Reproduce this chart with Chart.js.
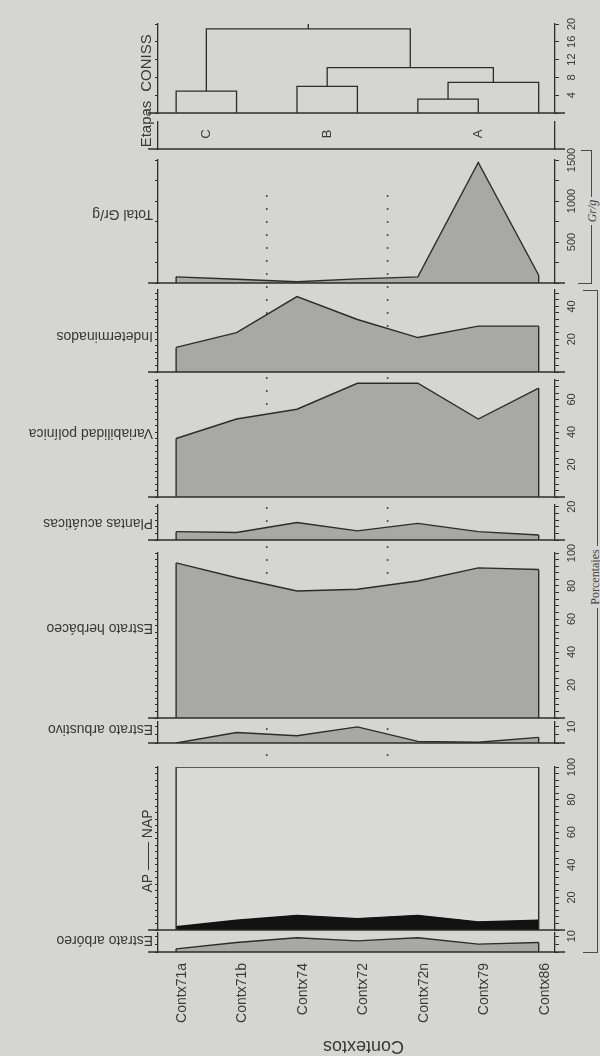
<!DOCTYPE html>
<html><head><meta charset="utf-8">
<script src="https://cdn.jsdelivr.net/npm/chart.js@4.4.1/dist/chart.umd.min.js"></script>
<style>
html,body{margin:0;padding:0;}
body{width:600px;height:1056px;background:#d5d5d3;position:relative;overflow:hidden;font-family:"Liberation Sans",Arial,sans-serif;color:#333;}
canvas{position:absolute;left:0;}
.ln{position:absolute;background:#4a4a4a;z-index:6;}
.rt{position:absolute;z-index:7;text-align:center;white-space:nowrap;transform:rotate(-90deg);font-family:"Liberation Serif","Times New Roman",serif;font-size:12px;color:#444;}
.rt span{background:#d5d5d3;padding:0 3px;}
</style></head><body>
<script>
// ---------------- data ----------------
const categories = ['Contx71a','Contx71b','Contx74','Contx72','Contx72n','Contx79','Contx86'];

// CONISS dendrogram: merge k joins node conissFrom[k] and conissTo[k] (leaves 0..6, merges 7..)
const conissFrom   = [0, 2, 4, 9, 8, 7];
const conissTo     = [1, 3, 5, 6, 10, 11];
const conissHeight = [4.9, 6.0, 3.1, 6.9, 10.2, 18.9];
const conissTicks  = [4, 8, 12, 16, 20];

// Etapas (zones)
const zoneNames = ['C', 'B', 'A'];
const zoneFirst = [0, 2, 4];
const zoneLast  = [1, 3, 6];

const totalGrG             = [75, 45, 15, 50, 75, 1470, 95];
const indeterminados       = [15, 24, 46, 32, 21, 28, 28];
const variabilidadPolinica = [36, 48, 54, 70, 70, 48, 67];
const plantasAcuaticas     = [5, 4.5, 10.5, 5.5, 10, 5, 3];
const estratoHerbaceo      = [94, 85, 77, 78, 83, 91, 90];
const estratoArbustivo     = [0, 6.5, 4.5, 10, 1, 0.5, 3.5];
const estratoArboreo       = [2, 6, 9, 7, 9, 5, 6];
const apNapTotal           = [100, 100, 100, 100, 100, 100, 100];

const totalTicks    = [500, 1000, 1500];
const indetTicks    = [20, 40];
const variabTicks   = [20, 40, 60];
const plantasTicks  = [20];
const herbTicks     = [20, 40, 60, 80, 100];
const arbustTicks   = [10];
const apNapTicks    = [20, 40, 60, 80, 100];
const arborTicks    = [10];

// ---------------- style ----------------
const INK = '#2c2c2c', FILL = '#a8a8a7', TXT = '#383838';
const FONT = '"Liberation Sans", Arial, sans-serif';
const X_MIN = -0.3, X_MAX = 6.27;
const AXIS_L = 158, AXIS_R_W = 45;

const mctx = document.createElement('canvas').getContext('2d');
function textW(s, size){ mctx.font = size + 'px ' + FONT; return mctx.measureText(s).width; }

function addCanvas(top, height, z){
  const c = document.createElement('canvas');
  c.width = 600; c.height = height;
  c.style.top = top + 'px'; c.style.width = '600px'; c.style.height = height + 'px';
  c.style.zIndex = z;
  document.body.appendChild(c);
  return c;
}

function yRight(max, step, labels, showTicks){
  const widest = labels.length ? Math.max(...labels.map(l => textW(String(l), 11))) : 0;
  return {
    type:'linear', position:'right', min:0, max:max,
    ticks:{ display: labels.length > 0, stepSize: step, autoSkip:false, includeBounds:false,
      minRotation:90, maxRotation:90, crossAlign:'center',
      padding: Math.max(0, 13 - widest/2), color: TXT, font:{family: FONT, size: 11},
      callback: v => labels.includes(v) ? String(v) : '' },
    grid:{ display: showTicks, drawOnChartArea:false, tickLength:4, color: INK, lineWidth:1 },
    border:{ display:true, color: INK, width:1.3 },
    afterFit: s => { s.width = AXIS_R_W; }
  };
}
function yLeft(max, step, showTicks){
  return {
    type:'linear', position:'left', min:0, max:max,
    ticks:{ display:false, stepSize: step, autoSkip:false, includeBounds:false },
    grid:{ display: showTicks, drawOnChartArea:false, tickLength:3, color: INK, lineWidth:1 },
    border:{ display:true, color: INK, width:1.3 },
    afterFit: s => { s.width = AXIS_L; }
  };
}
function xHidden(){ return { type:'linear', min:X_MIN, max:X_MAX, display:false }; }

function area(values){
  return { data: values.map((v,i) => ({x:i, y:v})), borderColor: INK, borderWidth:1.4,
    backgroundColor: FILL, fill:'origin', pointRadius:0, tension:0, edges:true,
    xAxisID:'x', yAxisID:'y' };
}

function extrasPlugin(cfg){
  return {
    id: 'extras',
    afterDatasetsDraw(chart){
      const {ctx, chartArea:a, scales} = chart;
      const y = scales.y, x = scales.x;
      const y0 = y.getPixelForValue(0);
      ctx.save();
      ctx.strokeStyle = INK; ctx.lineWidth = 1.4;
      chart.data.datasets.forEach((ds, i) => {
        if (!ds.edges) return;
        const pts = chart.getDatasetMeta(i).data;
        [pts[0], pts[pts.length-1]].forEach(p => {
          ctx.beginPath(); ctx.moveTo(p.x, y0); ctx.lineTo(p.x, p.y); ctx.stroke();
        });
      });
      if (cfg.baseline !== false){
        ctx.lineWidth = 1.5;
        ctx.beginPath(); ctx.moveTo(a.left - 10, y0); ctx.lineTo(a.right + 10, y0); ctx.stroke();
      }
      ctx.fillStyle = TXT;
      if (cfg.label){
        ctx.save();
        ctx.translate(153, cfg.labelY - cfg.canvasTop);
        ctx.rotate(Math.PI);
        ctx.font = '14px ' + FONT; ctx.textAlign = 'left'; ctx.textBaseline = 'middle';
        ctx.fillText(cfg.label, 0, 0);
        ctx.restore();
      }
      if (cfg.draw) cfg.draw(chart, ctx, x, y, cfg);
      ctx.restore();
    }
  };
}

function panel(cfg){
  const padT = cfg.padTop ?? 14, padB = cfg.padBottom ?? 14;
  const xH = cfg.xAxis ? cfg.xAxisHeight : 0;
  cfg.canvasTop = cfg.top - padT;
  const height = padT + (cfg.bottom - cfg.top) + xH + (cfg.xAxis ? 0 : padB);
  const canvas = addCanvas(cfg.canvasTop, height, cfg.z || 3);
  return new Chart(canvas, {
    type:'line',
    data:{ datasets: cfg.datasets },
    options:{
      responsive:false, animation:false, devicePixelRatio:1,
      layout:{ padding:{ top:padT, bottom: cfg.xAxis ? 0 : padB, left:0, right:0 } },
      plugins:{ legend:{display:false}, tooltip:{enabled:false} },
      elements:{ point:{radius:0}, line:{tension:0} },
      scales:{
        x: cfg.xAxis || xHidden(),
        yl: yLeft(cfg.max, cfg.step, cfg.ticks !== false),
        y: yRight(cfg.max, cfg.step, cfg.labels || [], cfg.ticks !== false)
      }
    },
    plugins:[extrasPlugin(cfg)]
  });
}

// ---------------- dotted zone boundaries (behind panels) ----------------
const zoneBounds = zoneLast.slice(0, -1).map((l, k) => (l + zoneFirst[k+1]) / 2);
(function(){
  const top = 190, h = 582;
  const c = addCanvas(top, h, 1);
  new Chart(c, {
    type:'line',
    data:{ datasets: zoneBounds.map(b => ({ data:[{x:b,y:0},{x:b,y:1}], borderColor:'#555', borderWidth:1.6,
      borderDash:[2,11], pointRadius:0, fill:false })) },
    options:{ responsive:false, animation:false, devicePixelRatio:1,
      layout:{ padding:{ top:2, bottom:3, left:AXIS_L, right:AXIS_R_W } },
      plugins:{ legend:{display:false}, tooltip:{enabled:false} },
      scales:{ x: xHidden(), y:{ type:'linear', min:0, max:1, display:false } } }
  });
})();

// ---------------- CONISS dendrogram ----------------
const nodeX = categories.map((c, i) => i);
const nodeH = categories.map(() => 0);
conissFrom.forEach((a, k) => { const b = conissTo[k]; nodeX.push((nodeX[a] + nodeX[b]) / 2); nodeH.push(conissHeight[k]); });
const dendroLine = { borderColor: INK, borderWidth:1.3, pointRadius:0, fill:false, tension:0, xAxisID:'x', yAxisID:'y' };
const dendroSets = conissFrom.map((a, k) => {
  const b = conissTo[k], h = conissHeight[k];
  return Object.assign({ data:[{x:nodeX[a],y:nodeH[a]},{x:nodeX[a],y:h},{x:nodeX[b],y:h},{x:nodeX[b],y:nodeH[b]}] }, dendroLine);
});
const rootIdx = nodeX.length - 1;
dendroSets.push(Object.assign({ data:[{x:nodeX[rootIdx],y:nodeH[rootIdx]},{x:nodeX[rootIdx],y:conissTicks[conissTicks.length-1]}] }, dendroLine));

panel({ key:'coniss', top:24, bottom:113, max:20, step:4, labels:conissTicks, padBottom:40,
  datasets: dendroSets,
  draw(chart, ctx, x, y, cfg){
    ctx.font = '15px ' + FONT; ctx.textAlign = 'center'; ctx.textBaseline = 'middle';
    [['CONISS', 63], ['Etapas', 124]].forEach(([t, py]) => {
      ctx.save(); ctx.translate(147, py - cfg.canvasTop); ctx.rotate(-Math.PI/2); ctx.fillText(t, 0, 0); ctx.restore();
    });
  }
});

// ---------------- Etapas ----------------
panel({ key:'etapas', top:122, bottom:149, max:1, step:1, ticks:false, labels:[],
  datasets:[],
  draw(chart, ctx, x, y, cfg){
    ctx.font = '13px ' + FONT; ctx.textAlign = 'center'; ctx.textBaseline = 'middle';
    zoneNames.forEach((n, k) => {
      const px = x.getPixelForValue((zoneFirst[k] + zoneLast[k]) / 2);
      ctx.save(); ctx.translate(px, 134 - cfg.canvasTop); ctx.rotate(-Math.PI/2); ctx.fillText(n, 0, 0); ctx.restore();
    });
  }
});

// ---------------- curves ----------------
panel({ key:'total', top:160, bottom:283, max:1500, step:250, labels:totalTicks,
  datasets:[area(totalGrG)], label:'Total Gr/g', labelY:214 });
panel({ key:'indet', top:290, bottom:372, max:50, step:4, labels:indetTicks,
  datasets:[area(indeterminados)], label:'Indeterminados', labelY:336 });
panel({ key:'variab', top:380, bottom:497, max:72, step:4, labels:variabTicks,
  datasets:[area(variabilidadPolinica)], label:'Variabilidad polínica', labelY:433 });
panel({ key:'plantas', top:505, bottom:540, max:21, step:4, labels:plantasTicks,
  datasets:[area(plantasAcuaticas)], label:'Plantas acuáticas', labelY:523 });
panel({ key:'herb', top:553, bottom:718, max:100, step:4, labels:herbTicks,
  datasets:[area(estratoHerbaceo)], label:'Estrato herbáceo', labelY:628 });
panel({ key:'arbust', top:722, bottom:743, max:13, step:5, labels:arbustTicks,
  datasets:[area(estratoArbustivo)], label:'Estrato arbustivo', labelY:729 });

// ---------------- AP / NAP ----------------
const apSet = area(estratoArboreo);
apSet.backgroundColor = '#121212'; apSet.borderColor = '#121212'; apSet.edges = false;
const napSet = area(apNapTotal);
napSet.fill = '-1'; napSet.backgroundColor = '#dadad8'; napSet.borderColor = INK; napSet.borderWidth = 1.5;
panel({ key:'apnap', top:767, bottom:930, max:100, step:4, labels:apNapTicks,
  datasets:[apSet, napSet],
  draw(chart, ctx, x, y, cfg){
    ctx.font = '14px ' + FONT; ctx.textAlign = 'center'; ctx.textBaseline = 'middle';
    ctx.save(); ctx.translate(148, 851 - cfg.canvasTop); ctx.rotate(-Math.PI/2); ctx.fillText('AP —— NAP', 0, 0); ctx.restore();
  }
});

// ---------------- Estrato arbóreo + category axis ----------------
panel({ key:'arbor', top:933, bottom:952, max:12, step:5, labels:arborTicks,
  datasets:[area(estratoArboreo)], label:'Estrato arbóreo', labelY:940,
  xAxisHeight:110,
  xAxis:{ type:'linear', min:X_MIN, max:X_MAX, position:'bottom',
    afterBuildTicks: s => { s.ticks = categories.map((c, i) => ({ value:i })); },
    ticks:{ callback: (v) => categories[v], minRotation:90, maxRotation:90, autoSkip:false,
      padding:3, labelOffset:6, color:TXT, font:{ family:FONT, size:14 } },
    grid:{ display:false }, border:{ display:false },
    afterFit: s => { s.height = 110; } },
  draw(chart, ctx, x, y, cfg){
    ctx.font = '18px ' + FONT; ctx.textAlign = 'center'; ctx.textBaseline = 'middle';
    ctx.save(); ctx.translate(x.getPixelForValue(3) + 6, 1046 - cfg.canvasTop); ctx.rotate(Math.PI); ctx.fillText('Contextos', 0, 0); ctx.restore();
  }
});
</script>

<!-- right-hand brackets -->
<div class="ln" style="left:591px;top:150px;width:1px;height:133px"></div>
<div class="ln" style="left:581px;top:150px;width:11px;height:1px"></div>
<div class="ln" style="left:578px;top:283px;width:14px;height:1px"></div>
<div class="rt" style="left:552px;top:204px;width:80px;height:14px;line-height:14px;font-style:italic"><span>Gr/g</span></div>

<div class="ln" style="left:597px;top:290px;width:1px;height:662px"></div>
<div class="ln" style="left:583px;top:290px;width:15px;height:1px"></div>
<div class="ln" style="left:583px;top:952px;width:15px;height:1px"></div>
<div class="rt" style="left:555px;top:570px;width:80px;height:14px;line-height:14px"><span>Porcentajes</span></div>
</body></html>
